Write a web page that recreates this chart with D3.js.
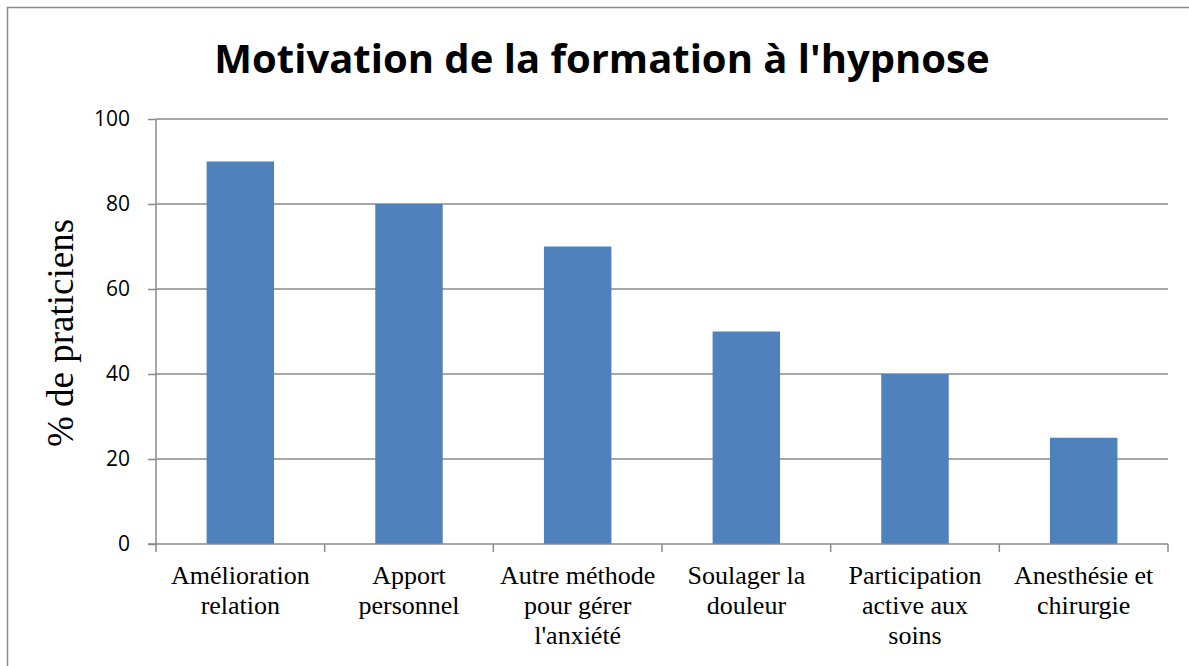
<!DOCTYPE html>
<html><head><meta charset="utf-8">
<script src="https://cdn.jsdelivr.net/npm/d3@7"></script>
<style>body{margin:0;background:#fff}</style>
</head><body>
<svg id="c" width="1189" height="666"></svg>
<script>
const categories = [["Amélioration","relation"],["Apport","personnel"],["Autre méthode","pour gérer","l'anxiété"],["Soulager la","douleur"],["Participation","active aux","soins"],["Anesthésie et","chirurgie"]];
const values = [90, 80, 70, 50, 40, 25];
const yTicks = [0, 20, 40, 60, 80, 100];
const title = "Motivation de la formation à l'hypnose";
const yTitle = "% de praticiens";

const serif = "'Liberation Serif', 'Times New Roman', serif";
const sans = "'Open Sans', 'Liberation Sans', sans-serif";
const svg = d3.select("#c");
svg.append("rect").attr("x",7.5).attr("y",7.5).attr("width",1200).attr("height",700)
  .attr("fill","#fff").attr("stroke","#8c8c8c").attr("stroke-width",1.5);

const L=156, R=1168, T=119, B=544;
const keys = categories.map((c,i)=>i);
const x = d3.scaleBand().domain(keys).range([L,R]).paddingInner(0.6).paddingOuter(0.3);
const y = d3.scaleLinear().domain([0,100]).range([B,T]);

// gridlines
svg.append("g").selectAll("line").data(yTicks.filter(d=>d>0)).join("line")
  .attr("x1",L).attr("x2",R).attr("y1",d=>y(d)).attr("y2",d=>y(d))
  .attr("stroke","#8a8a8a").attr("stroke-width",1.5);

// bars
svg.append("g").selectAll("rect").data(values).join("rect")
  .attr("x",(d,i)=>x(i)).attr("width",x.bandwidth())
  .attr("y",d=>y(d)).attr("height",d=>B-y(d)).attr("fill","#4f81bd");

// y axis
const ya = svg.append("g").attr("transform",`translate(${L},0)`)
  .call(d3.axisLeft(y).tickValues(yTicks).tickSize(8).tickPadding(18).tickFormat(d3.format("d")));
ya.select(".domain").attr("stroke","#8a8a8a").attr("stroke-width",1.5).attr("d",`M0,${T}V${B}`);
ya.selectAll(".tick line").attr("stroke","#8a8a8a").attr("stroke-width",1.5);
ya.selectAll(".tick text").attr("font-family",sans).attr("font-size",21).attr("fill","#000");

// x axis line and ticks at band boundaries
svg.append("line").attr("x1",L-8).attr("x2",R).attr("y1",B).attr("y2",B).attr("stroke","#8a8a8a").attr("stroke-width",1.5);
const bounds = d3.range(categories.length+1).map(i=>L+i*(R-L)/categories.length);
svg.append("g").selectAll("line").data(bounds).join("line")
  .attr("x1",d=>d).attr("x2",d=>d).attr("y1",B).attr("y2",B+8)
  .attr("stroke","#8a8a8a").attr("stroke-width",1.5);

// category labels
const lab = svg.append("g").selectAll("text").data(categories).join("text")
  .attr("transform",(d,i)=>`translate(${x(i)+x.bandwidth()/2},584)`)
  .attr("text-anchor","middle").style("font-family",serif)
  .attr("font-size",26).attr("fill","#000");
lab.selectAll("tspan").data(d=>d).join("tspan")
  .attr("x",0).attr("dy",(d,i)=>i===0?0:30).text(d=>d);

// y title
svg.append("text").attr("transform","translate(73,333) rotate(-90)")
  .attr("text-anchor","middle").style("font-family",serif)
  .attr("font-size",37).attr("fill","#000").text(yTitle);

// title
svg.append("text").attr("x",602).attr("y",73).attr("text-anchor","middle")
  .attr("font-family",sans).attr("font-weight","bold")
  .attr("font-size",40).attr("fill","#000").text(title);
</script>
</body></html>
